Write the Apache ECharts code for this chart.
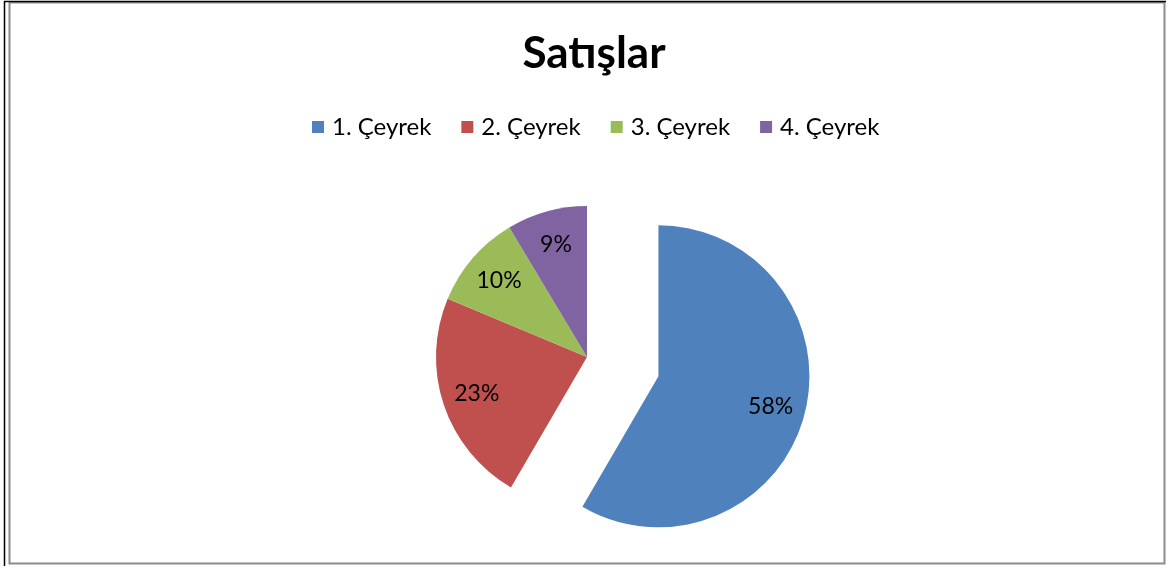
<!DOCTYPE html>
<html>
<head>
<meta charset="utf-8">
<script src="https://cdn.jsdelivr.net/npm/echarts@6/dist/echarts.min.js"></script>
<style>
  html, body { margin: 0; padding: 0; background: #fff; }
  #chart { width: 1168px; height: 568px; }
</style>
</head>
<body>
<div id="chart"></div>
<script>
// Satışlar - çeyrek payları (%)
const categories = ['1. Çeyrek', '2. Çeyrek', '3. Çeyrek', '4. Çeyrek'];
const values = [58.4, 22.9, 10.1, 8.6];
const colors = ['#4F81BD', '#C0504D', '#9BBB59', '#8064A2'];

const font = 'Lato, "Open Sans", sans-serif';
const center = [587, 357];
const radius = 151;

const chart = echarts.init(document.getElementById('chart'));

const pieData = categories.map(function (name, i) {
  return { name: name, value: values[i], selected: i === 0 };
});

chart.setOption({
  animation: false,
  color: colors,
  title: {
    text: 'Satışlar',
    left: 589,
    textAlign: 'center',
    top: 27,
    textStyle: { fontFamily: font, fontSize: 44, fontWeight: 'bold', color: '#000' }
  },
  legend: {
    data: categories,
    top: 110,
    left: 307,
    icon: 'rect',
    itemWidth: 12,
    itemHeight: 12,
    itemGap: 30,
    textStyle: { fontFamily: font, fontSize: 24, color: '#000', padding: [0, 0, 0, 3] }
  },
  graphic: [
    {
      type: 'rect',
      shape: { x: 9.5, y: 2.5, width: 1155, height: 561 },
      style: { fill: null, stroke: '#8c8c8c', lineWidth: 2 },
      silent: true
    },
    {
      type: 'polyline',
      shape: { points: [[4.5, 566], [4.5, 1.5], [1166, 1.5]] },
      style: { stroke: '#000', lineWidth: 1.5, fill: null },
      silent: true
    }
  ],
  series: [
    {
      type: 'pie',
      silent: true,
      center: center,
      radius: radius,
      startAngle: 90,
      clockwise: true,
      selectedMode: 'single',
      selectedOffset: 74,
      label: { show: false },
      labelLine: { show: false },
      itemStyle: { borderWidth: 0 },
      select: { itemStyle: { borderWidth: 0 } },
      data: pieData
    },
    {
      // label ring: puts labels at ~3/4 of the radius like the original
      type: 'pie',
      silent: true,
      center: center,
      radius: [radius * 0.5, radius],
      startAngle: 90,
      clockwise: true,
      selectedMode: 'single',
      selectedOffset: 74,
      itemStyle: { color: 'rgba(0,0,0,0)', borderWidth: 0 },
      select: { itemStyle: { color: 'rgba(0,0,0,0)', borderWidth: 0 } },
      label: {
        show: true,
        position: 'inner',
        fontFamily: font,
        fontSize: 23,
        color: '#000',
        formatter: function (p) {
          return Math.round(p.percent) + '%';
        }
      },
      labelLine: { show: false },
      data: pieData
    }
  ]
});
</script>
</body>
</html>
